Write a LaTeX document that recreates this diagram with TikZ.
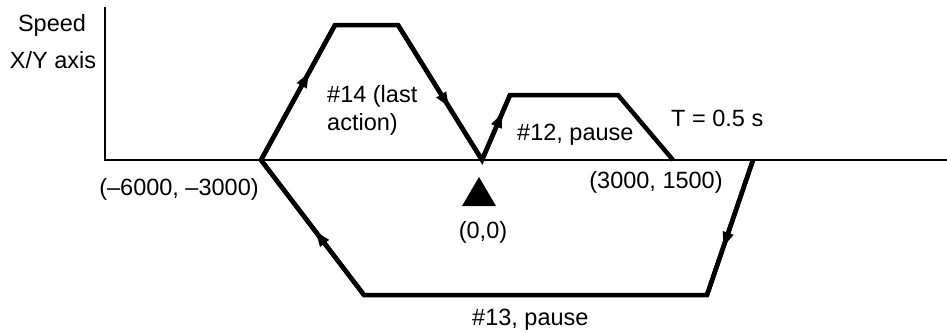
\documentclass[tikz,border=0pt]{standalone}
\usepackage{fontspec}
\setmainfont{Liberation Sans}
\usetikzlibrary{arrows.meta,decorations.markings}
\begin{document}
\begin{tikzpicture}[x=1pt,y=-1pt,
  axisline/.style={line width=2pt},
  motion/.style={line width=4.5pt},
  lbl/.style={font=\fontsize{23.5}{28}\selectfont, inner sep=0pt},
  tipat/.style={postaction={decorate},
    decoration={markings,mark=at position #1 with {\arrow{Latex[length=20pt,width=12pt]}}}}
]
\useasboundingbox (0,0) rectangle (947,332);
% axes
\coordinate (ytop) at (105,7);
\coordinate (orig) at (105,160);
\coordinate (xend) at (947,160);
\draw[axisline] (ytop) -- (orig) -- (xend);
% motion path points
\coordinate (a0) at (261,160);
\coordinate (a1) at (335,25);
\coordinate (a2) at (398,25);
\coordinate (z)  at (482,160);
\coordinate (c1) at (510,95);
\coordinate (c2) at (618,95);
\coordinate (c3) at (673,160);
\coordinate (d0) at (753,160);
\coordinate (d1) at (707,295);
\coordinate (d2) at (364,295);
\draw[motion] (d0) -- (d1) -- (d2) -- (a0) -- (a1) -- (a2) -- (z) -- (c1) -- (c2) -- (c3);
% direction arrows
\draw[motion,tipat=0.68] (a0) -- (a1);
\draw[motion,tipat=0.64] (a2) -- (z);
\draw[motion,tipat=0.80] (z) -- (c1);
\draw[motion,tipat=0.68] (d0) -- (d1);
\draw[motion,tipat=0.50] (d2) -- (a0);
% origin marker
\fill (479,177) -- (496,206) -- (462,206) -- cycle;
% labels
\node[lbl,anchor=base] (speed) at (52,31) {Speed};
\node[lbl,anchor=base] (xy) at (53,68) {X/Y axis};
\node[lbl] (pm) at (179,189) {(–6000, –3000)};
\node[lbl,anchor=base west] (n14a) at (327,102) {\#14 (last};
\node[lbl,anchor=base west] (n14b) at (327,130) {action)};
\node[lbl,anchor=base west] (n12) at (517,140) {\#12, pause};
\node[lbl,anchor=base west] (tt) at (671,126) {T = 0.5 s};
\node[lbl] (pp) at (656,182) {(3000, 1500)};
\node[lbl] (oo) at (483,232) {(0,0)};
\node[lbl,anchor=base west] (n13) at (472,325) {\#13, pause};
\end{tikzpicture}
\end{document}
